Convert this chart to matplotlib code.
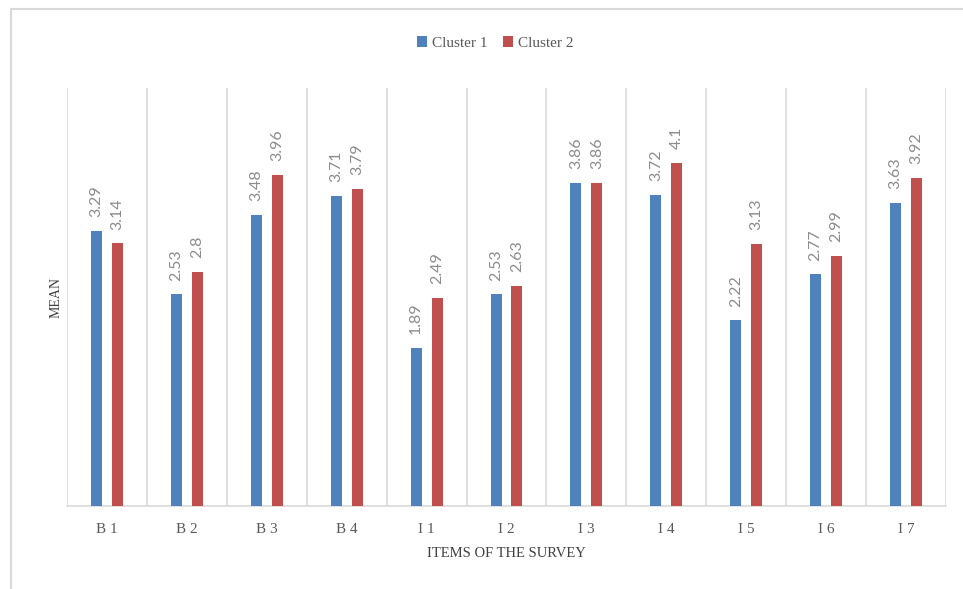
import matplotlib
matplotlib.use("Agg")
import matplotlib.pyplot as plt
import numpy as np
from matplotlib.patches import Rectangle

categories = ["B 1", "B 2", "B 3", "B 4", "I 1", "I 2", "I 3", "I 4", "I 5", "I 6", "I 7"]
cluster1 = [3.29, 2.53, 3.48, 3.71, 1.89, 2.53, 3.86, 3.72, 2.22, 2.77, 3.63]
cluster2 = [3.14, 2.8, 3.96, 3.79, 2.49, 2.63, 3.86, 4.1, 3.13, 2.99, 3.92]
labels1 = ["3.29", "2.53", "3.48", "3.71", "1.89", "2.53", "3.86", "3.72", "2.22", "2.77", "3.63"]
labels2 = ["3.14", "2.8", "3.96", "3.79", "2.49", "2.63", "3.86", "4.1", "3.13", "2.99", "3.92"]

W, H = 963, 589
fig = plt.figure(figsize=(W / 100, H / 100), dpi=100)
ax = fig.add_axes([67 / W, 1 - 506 / H, (946 - 67) / W, (506 - 88) / H])

serif = "Liberation Serif"
blue = "#4F81BD"
red = "#C0504D"
grid = "#D9D9D9"

x = np.arange(len(categories))
bw = 0.1375
off = 0.131
b1 = ax.bar(x - off, cluster1, bw, color=blue, label="Cluster 1", zorder=3)
b2 = ax.bar(x + off, cluster2, bw, color=red, label="Cluster 2", zorder=3)

for rects, labs in ((b1, labels1), (b2, labels2)):
    for r, t in zip(rects, labs):
        ax.annotate(t, (r.get_x() + r.get_width() / 2, r.get_height()),
                    xytext=(0, 10), textcoords="offset points",
                    rotation=90, ha="center", va="bottom",
                    fontsize=11.5, color="#8C8C8C", family="Lato")

ax.set_xlim(-0.5, len(categories) - 0.5)
ax.set_ylim(0, 5)
for b in np.arange(-0.5, len(categories), 1.0):
    ax.axvline(b, color=grid, lw=1.2, zorder=1)

ax.set_yticks([])
ax.set_xticks(x)
ax.set_xticklabels(categories, family=serif, fontsize=11, color="#595959")
ax.tick_params(axis="x", length=0, pad=12)
for s in ["top", "right", "left"]:
    ax.spines[s].set_visible(False)
ax.spines["bottom"].set_color(grid)
ax.spines["bottom"].set_linewidth(1.2)

ax.set_ylabel("MEAN", family=serif, fontsize=10, color="#404040", labelpad=3)
ax.set_xlabel("ITEMS OF THE SURVEY", family=serif, fontsize=10.5, color="#404040", labelpad=8)

leg = fig.legend(handles=[b1, b2], loc="center", bbox_to_anchor=(495 / W, 1 - 43 / H),
                 ncol=2, frameon=False, prop={"family": serif, "size": 11},
                 handlelength=0.7, handleheight=0.7, handletextpad=0.3, columnspacing=1.0)
for t in leg.get_texts():
    t.set_color("#595959")

fig.patches.append(Rectangle((11 / W, -0.05), 1.1, 1 - 9 / H + 0.05, transform=fig.transFigure,
                             fill=False, edgecolor=grid, lw=1.5, figure=fig))

fig.savefig("out.png", dpi=100)
